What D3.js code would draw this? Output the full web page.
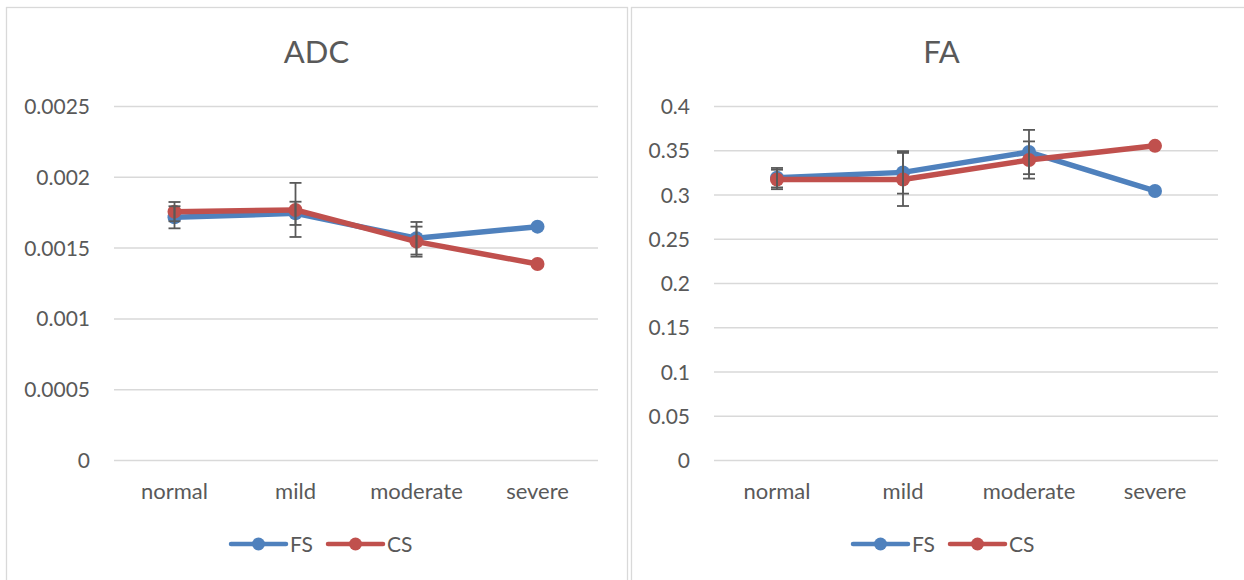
<!DOCTYPE html>
<html>
<head>
<meta charset="utf-8">
<script src="https://cdn.jsdelivr.net/npm/d3@7"></script>
<style>
  html, body { margin: 0; padding: 0; background: #ffffff; }
  svg { display: block; }
  text { font-family: Lato, "Open Sans", sans-serif; fill: #595959; }
</style>
</head>
<body>
<svg id="chart" width="1244" height="580"></svg>
<script>
// Grading categories shared by both panels
const categories = ["normal", "mild", "moderate", "severe"];
const seriesNames = ["FS", "CS"];

// ADC means and error half-widths (null = no error bar)
const adcFS = [0.001714, 0.001742, 0.001566, 0.001648];
const adcCS = [0.001754, 0.001766, 0.001542, 0.001384];
const adcFSErr = [0.000078, 0.000082, 0.000115, null];
const adcCSErr = [0.000068, 0.000191, 0.000106, null];
const adcTicks = [0, 0.0005, 0.001, 0.0015, 0.002, 0.0025];
const adcTickLabels = ["0", "0.0005", "0.001", "0.0015", "0.002", "0.0025"];

// FA means and error half-widths
const faFS = [0.319, 0.325, 0.348, 0.304];
const faCS = [0.317, 0.317, 0.339, 0.355];
const faFSErr = [0.011, 0.024, 0.025, null];
const faCSErr = [0.011, 0.030, 0.021, null];
const faTicks = [0, 0.05, 0.1, 0.15, 0.2, 0.25, 0.3, 0.35, 0.4];
const faTickLabels = ["0", "0.05", "0.1", "0.15", "0.2", "0.25", "0.3", "0.35", "0.4"];

const colors = { FS: "#4F81BD", CS: "#C0504D" };
const svg = d3.select("#chart");

function drawPanel(p) {
  const g = svg.append("g");

  // chart frame
  g.append("rect")
    .attr("x", p.frame[0] + 0.5).attr("y", 7.5)
    .attr("width", p.frame[1] - p.frame[0]).attr("height", 600)
    .attr("fill", "#ffffff").attr("stroke", "#d9d9d9").attr("stroke-width", 1.3);

  const x = d3.scaleBand().domain(categories).range([p.left, p.right]).padding(0);
  const cx = c => x(c) + x.bandwidth() / 2;
  const y = d3.scaleLinear().domain([0, p.ticks[p.ticks.length - 1]]).range([460, 106]);

  // title
  g.append("text")
    .attr("x", (p.frame[0] + p.frame[1]) / 2).attr("y", 63)
    .attr("text-anchor", "middle")
    .style("font-size", "31px")
    .text(p.title);

  // value axis with gridlines
  const yAxis = d3.axisLeft(y)
    .tickValues(p.ticks)
    .tickFormat((d, i) => p.tickLabels[i])
    .tickSize(-(p.right - p.left))
    .tickPadding(24);
  const ya = g.append("g").attr("transform", `translate(${p.left},0)`).call(yAxis);
  ya.select(".domain").remove();
  ya.selectAll(".tick line").attr("stroke", "#d9d9d9").attr("stroke-width", 1.5);
  ya.selectAll(".tick text")
    .style("font-size", "21px").style("font-family", "Lato, 'Open Sans', sans-serif")
    .attr("fill", "#595959").attr("dy", "0.36em");

  // category axis
  const xAxis = d3.axisBottom(x).tickSize(0).tickPadding(0);
  const xa = g.append("g").attr("transform", "translate(0,460)").call(xAxis);
  xa.select(".domain").remove();
  xa.selectAll(".tick text")
    .style("font-size", "22px").style("font-family", "Lato, 'Open Sans', sans-serif")
    .attr("fill", "#595959").attr("y", 39).attr("dy", 0);

  const series = [
    { name: "FS", values: p.fs, err: p.fsErr },
    { name: "CS", values: p.cs, err: p.csErr }
  ];

  const line = d3.line().x((d, i) => cx(categories[i])).y(d => y(d));

  series.forEach(s => {
    const sg = g.append("g");
    sg.append("path")
      .datum(s.values)
      .attr("d", line)
      .attr("fill", "none")
      .attr("stroke", colors[s.name])
      .attr("stroke-width", 5.5)
      .attr("stroke-linejoin", "round")
      .attr("stroke-linecap", "round");
    sg.selectAll("circle")
      .data(s.values)
      .join("circle")
      .attr("cx", (d, i) => cx(categories[i]))
      .attr("cy", d => y(d))
      .attr("r", 7)
      .attr("fill", colors[s.name]);
  });

  // error bars on top of the markers
  series.forEach(s => {
    const eg = g.append("g").attr("stroke", "#595959").attr("stroke-width", 1.8).attr("fill", "none");
    s.values.forEach((v, i) => {
      const e = s.err[i];
      if (e == null) return;
      const xc = cx(categories[i]);
      const y0 = y(v - e), y1 = y(v + e);
      eg.append("line").attr("x1", xc).attr("x2", xc).attr("y1", y0).attr("y2", y1);
      eg.append("line").attr("x1", xc - 6).attr("x2", xc + 6).attr("y1", y0).attr("y2", y0);
      eg.append("line").attr("x1", xc - 6).attr("x2", xc + 6).attr("y1", y1).attr("y2", y1);
    });
  });

  // legend
  const lg = g.append("g").attr("transform", `translate(${p.legendX},544)`);
  seriesNames.forEach((name, i) => {
    const ox = i * p.legendStep;
    lg.append("line").attr("x1", ox).attr("x2", ox + 55).attr("y1", 0).attr("y2", 0)
      .attr("stroke", colors[name]).attr("stroke-width", 4.5).attr("stroke-linecap", "round");
    lg.append("circle").attr("cx", ox + 27.5).attr("cy", 0).attr("r", 6.5).attr("fill", colors[name]);
    lg.append("text").attr("x", ox + 59).attr("y", 7.5)
      .style("font-size", "21px").text(name);
  });
}

drawPanel({
  title: "ADC", frame: [6, 627], left: 114, right: 598,
  ticks: adcTicks, tickLabels: adcTickLabels,
  fs: adcFS, cs: adcCS, fsErr: adcFSErr, csErr: adcCSErr,
  legendX: 231, legendStep: 97
});

drawPanel({
  title: "FA", frame: [631, 1252], left: 714, right: 1218,
  ticks: faTicks, tickLabels: faTickLabels,
  fs: faFS, cs: faCS, fsErr: faFSErr, csErr: faCSErr,
  legendX: 853, legendStep: 97
});
</script>
</body>
</html>
